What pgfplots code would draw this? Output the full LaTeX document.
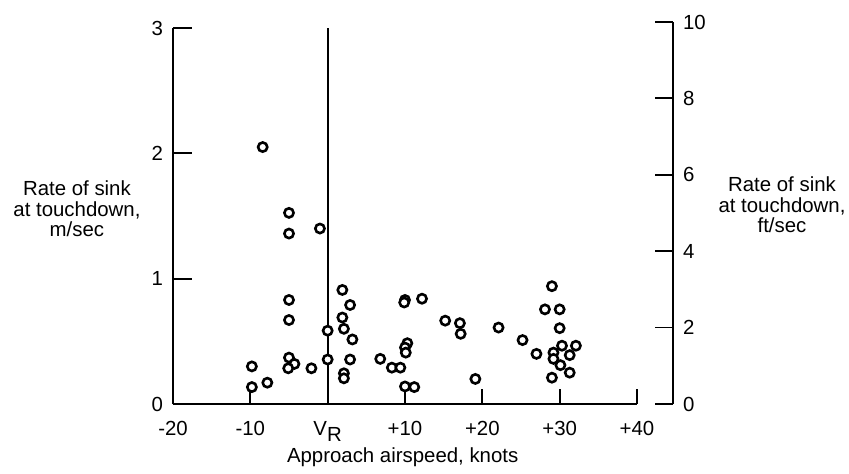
\documentclass[border=0pt]{standalone}
\usepackage{pgfplots}
\pgfplotsset{compat=1.18}
\usepackage{fontspec}
\setmainfont{Liberation Sans}
\newcommand\ff{\fontsize{10.2bp}{10.2bp}\selectfont}
\begin{document}
\begin{tikzpicture}[font=\ff]
\path[use as bounding box] (-86.5bp,-35bp) rectangle (338bp,202bp);
\begin{axis}[
  at={(0bp,0bp)}, anchor=south west,
  scale only axis, width=232bp, height=188bp,
  xmin=-20, xmax=40, ymin=0, ymax=3,
  axis x line*=bottom, axis y line*=left,
  tick align=inside,
  xtick={-20,-10,0,10,20,30,40},
  xticklabels={-20,-10,{V\raisebox{-3bp}{R}},+10,+20,+30,+40},
  ytick={0,1,2,3},
  yticklabels={0,1,2,3},
  minor tick num=0,
  axis line style={line width=1.3bp},
  every tick/.style={black, line width=0.9bp},
  xtick style={/pgfplots/major tick length=7.5bp},
  ytick style={/pgfplots/major tick length=9.5bp},
  every tick label/.append style={font=\ff},
  xticklabel style={yshift=-7.5bp, inner sep=1pt},
  yticklabel style={xshift=-1.5bp},
  clip=false,
  xlabel={Approach airspeed, knots},
  every axis x label/.style={at={(axis description cs:0.495,0)}, anchor=center, yshift=-26.5bp, inner sep=1pt, font=\ff},
  ylabel={Rate of sink\\at touchdown,\\m/sec},
  every axis y label/.style={at={(axis description cs:-0.207,0.519)}, anchor=center, align=center, font=\ff},
]
\addplot[black, line width=1.1bp, mark=none] coordinates {(0,0) (0,3)};
\addplot[only marks, mark=*, mark size=2.3bp, mark options={fill=white, draw=black, line width=1.3bp}] coordinates {
(-8.4,2.05) (-5.0,1.525) (-5.0,1.36) (-1.0,1.40) (1.9,0.91)
(-5.0,0.83) (2.9,0.79) (-5.0,0.67) (1.9,0.69) (2.1,0.60)
(0,0.585) (3.2,0.515) (-5.0,0.37) (-4.3,0.32) (-5.1,0.285)
(-2.1,0.285) (0,0.355) (2.9,0.355) (6.8,0.36) (-9.8,0.30)
(-9.8,0.135) (-7.8,0.17) (2.1,0.245) (2.1,0.205)
(10.0,0.83) (9.9,0.81) (12.2,0.84) (15.2,0.665) (17.1,0.645)
(17.2,0.56) (22.1,0.61) (25.2,0.51) (10.3,0.485) (10.0,0.45)
(10.1,0.41) (8.3,0.29) (9.4,0.29) (10.0,0.14) (11.2,0.135)
(19.1,0.20) (29.0,0.94) (28.1,0.755) (30.0,0.755) (30.0,0.605)
(27.0,0.40) (30.3,0.465) (32.1,0.465) (29.2,0.41) (31.3,0.39)
(29.2,0.36) (30.1,0.31) (31.3,0.25) (29.0,0.21)
};
\end{axis}
\begin{axis}[
  at={(0bp,0bp)}, anchor=south west,
  scale only axis, width=250bp, height=191bp,
  xmin=0, xmax=1, ymin=0, ymax=10,
  axis x line=none, axis y line*=right,
  tick align=inside,
  ytick={0,2,4,6,8,10},
  yticklabels={0,2,4,6,8,10},
  minor tick num=0,
  axis line style={line width=1bp},
  every tick/.style={black, line width=0.9bp},
  ytick style={/pgfplots/major tick length=9bp},
  every tick label/.append style={font=\ff},
  yticklabel style={xshift=1.5bp},
  ylabel={Rate of sink\\at touchdown,\\ft/sec},
  every axis y label/.style={at={(axis description cs:1.218,0.521)}, anchor=center, align=center, font=\ff},
]
\end{axis}
\end{tikzpicture}
\end{document}
